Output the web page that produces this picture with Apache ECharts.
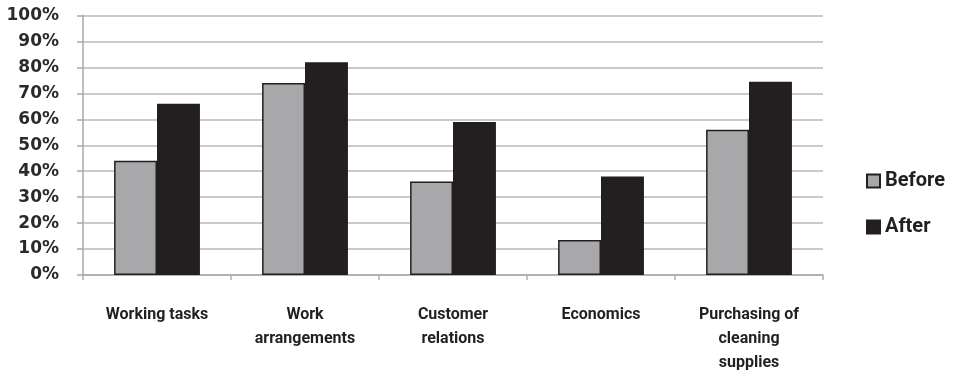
<!DOCTYPE html>
<html>
<head>
<meta charset="utf-8">
<script src="https://cdn.jsdelivr.net/npm/echarts@6/dist/echarts.min.js"></script>
<style>html,body{margin:0;padding:0;background:#fff;}#c{width:954px;height:376px;}</style>
</head>
<body>
<div id="c"></div>
<script>
const categories = ['Working tasks', 'Work\narrangements', 'Customer\nrelations', 'Economics', 'Purchasing of\ncleaning\nsupplies'];
const beforeValues = [44, 74, 36, 13.5, 56];
const afterValues = [66, 82, 59, 38, 74.5];
const yTicks = [0, 10, 20, 30, 40, 50, 60, 70, 80, 90, 100];

const chart = echarts.init(document.getElementById('c'));
chart.setOption({
  animation: false,
  backgroundColor: '#fff',
  grid: { left: 83, right: 131, top: 15.5, bottom: 101, containLabel: false },
  legend: {
    orient: 'vertical', left: 861, top: 166, icon: 'rect',
    itemWidth: 13, itemHeight: 13, itemGap: 26,
    textStyle: { fontFamily: 'Roboto', fontWeight: 'bold', fontSize: 20, color: '#231f20' },
    data: ['Before', 'After']
  },
  xAxis: {
    type: 'category', data: categories,
    axisLine: { lineStyle: { color: '#a9a9a9', width: 1.5 } },
    axisTick: { show: true, length: 5, lineStyle: { color: '#b0b0b0', width: 1.5 } },
    axisLabel: {
      interval: 0, margin: 28, lineHeight: 24,
      fontFamily: 'Roboto', fontWeight: 'bold', fontSize: 16, color: '#231f20'
    }
  },
  yAxis: {
    type: 'value', min: 0, max: 100, interval: 10,
    axisLine: { show: true, lineStyle: { color: '#a9a9a9', width: 1.5 } },
    axisTick: { show: true, length: 6, lineStyle: { color: '#a9a9a9', width: 1.5 } },
    splitLine: { lineStyle: { color: '#b8b8b8', width: 1.5 } },
    axisLabel: {
      margin: 24, fontFamily: 'DejaVu Sans', fontWeight: 'bold', fontSize: 17, color: '#2a2a2a',
      formatter: v => yTicks.includes(v) ? v + '%' : ''
    }
  },
  series: [
    { name: 'Before', type: 'bar', data: beforeValues, barGap: '0%', barCategoryGap: '42%',
      itemStyle: { color: '#a8a8ab', borderColor: '#231f20', borderWidth: 1.5 } },
    { name: 'After', type: 'bar', data: afterValues,
      itemStyle: { color: '#231f20', borderColor: '#231f20', borderWidth: 1.5 } }
  ]
});
</script>
</body>
</html>
